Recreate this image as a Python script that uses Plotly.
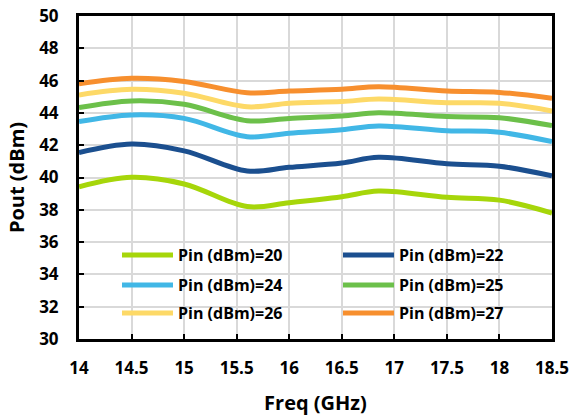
import plotly.graph_objects as go

freq = [14, 14.5, 15, 15.6, 16, 16.5, 16.85, 17.5, 18, 18.5]
p20 = [39.43, 40.01, 39.6, 38.2, 38.44, 38.81, 39.16, 38.77, 38.6, 37.8]
p22 = [41.54, 42.07, 41.65, 40.4, 40.63, 40.9, 41.25, 40.85, 40.7, 40.1]
p24 = [43.46, 43.87, 43.66, 42.53, 42.74, 42.95, 43.19, 42.9, 42.8, 42.22]
p25 = [44.33, 44.74, 44.53, 43.52, 43.66, 43.81, 44.01, 43.77, 43.7, 43.21]
p26 = [45.11, 45.46, 45.22, 44.38, 44.6, 44.7, 44.86, 44.63, 44.6, 44.12]
p27 = [45.8, 46.14, 45.95, 45.25, 45.35, 45.46, 45.62, 45.36, 45.27, 44.9]

series_names = ["Pin (dBm)=20", "Pin (dBm)=22", "Pin (dBm)=24",
                "Pin (dBm)=25", "Pin (dBm)=26", "Pin (dBm)=27"]
series_vals = [p20, p22, p24, p25, p26, p27]
colors = ["#A6D60A", "#1B4F8F", "#41B7E6", "#6CC04A", "#FDD967", "#F78F2E"]

FONT = "Open Sans"

# plot area in pixels: x 79..552, y 16..339
PL, PR, PT, PB = 79, 552, 16, 339
PW, PH = PR - PL, PB - PT

def px_x(v):
    return (v - PL) / PW

def px_y(v):
    return (PB - v) / PH

fig = go.Figure()
legend_layout = {}
col_x = [117, 338]
row_y = [255, 285, 313]
for i, (name, vals, col) in enumerate(zip(series_names, series_vals, colors)):
    lid = "legend" if i == 0 else f"legend{i + 1}"
    fig.add_trace(go.Scatter(
        x=freq, y=vals, name=name, mode="lines",
        line=dict(color=col, width=5, shape="spline", smoothing=1),
        legend=lid,
    ))
    legend_layout[lid] = dict(
        orientation="v", xanchor="left", yanchor="middle",
        x=px_x(col_x[i % 2]), y=px_y(row_y[i // 2]),
        bgcolor="rgba(0,0,0,0)", borderwidth=0, itemwidth=51,
        font=dict(family=FONT, size=16, color="black", weight="bold"),
    )

fig.update_layout(
    width=573, height=416,
    margin=dict(l=PL, r=573 - PR, t=PT, b=416 - PB, autoexpand=False),
    paper_bgcolor="white", plot_bgcolor="white",
    font=dict(family=FONT, color="black"),
    showlegend=True,
    **legend_layout,
    xaxis=dict(
        range=[14, 18.5], dtick=0.5, tick0=14, automargin=False,
        showgrid=True, gridcolor="#D9D9D9", gridwidth=1.5,
        showline=True, linecolor="black", linewidth=3, mirror=True,
        ticks="inside", ticklen=5, tickwidth=1.5, tickcolor="black",
        ticklabelstandoff=12,
        tickfont=dict(family=FONT, size=17, color="black", weight="bold"),
        title=dict(text="Freq (GHz)", standoff=18,
                   font=dict(family=FONT, size=20, color="black", weight="bold")),
        zeroline=False,
    ),
    yaxis=dict(
        range=[30, 50], dtick=2, tick0=30, automargin=False,
        showgrid=True, gridcolor="#D9D9D9", gridwidth=1.5,
        showline=True, linecolor="black", linewidth=3, mirror=True,
        ticks="inside", ticklen=5, tickwidth=1.5, tickcolor="black",
        ticklabelstandoff=14,
        tickfont=dict(family=FONT, size=17, color="black", weight="bold"),
        title=dict(text="Pout (dBm)", standoff=10,
                   font=dict(family=FONT, size=20, color="black", weight="bold")),
        zeroline=False,
    ),
    shapes=[dict(
        type="rect", xref="paper", yref="paper", layer="between",
        x0=px_x(93), x1=px_x(532), y0=px_y(328), y1=px_y(240),
        fillcolor="white", line=dict(width=0),
    )],
)

fig.write_html(
    "out.html",
    config={"displayModeBar": False},
    post_script="document.body.style.margin='0';document.body.style.padding='0';",
)
